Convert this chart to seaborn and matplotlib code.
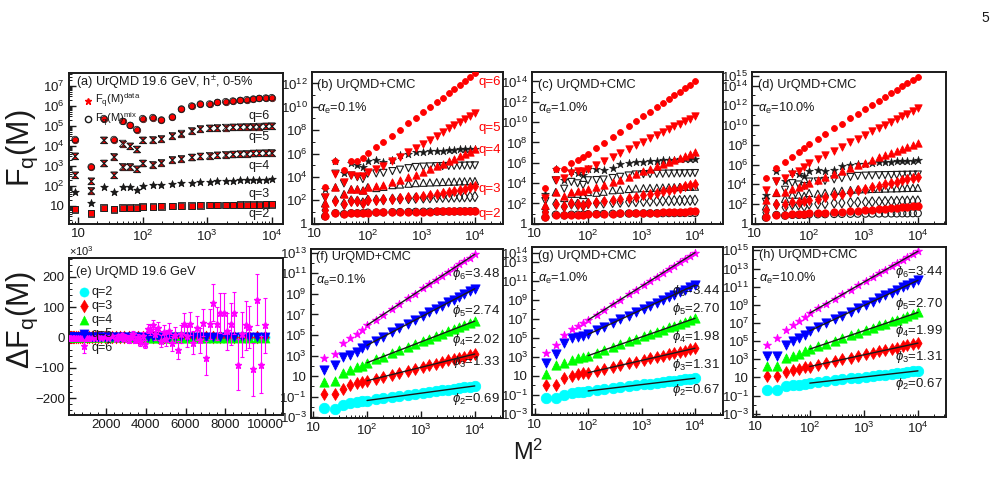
import numpy as np
import matplotlib
matplotlib.use("Agg")
import matplotlib.pyplot as plt
import seaborn as sns
from matplotlib.ticker import FixedLocator, FuncFormatter, LogLocator, NullFormatter, AutoMinorLocator
from matplotlib.lines import Line2D

# ---------------------------------------------------------------------------
# data (x axis is M^2)
# ---------------------------------------------------------------------------
M_a = [3, 4, 5, 6, 7, 8, 9, 10, 12, 14, 17, 20, 24, 28, 33, 38, 44, 50, 57, 64, 72, 80, 90, 100]
M_d = M_a[1:]
qs = [2, 3, 4, 5, 6]

# (a) log10 F_q(M), UrQMD 19.6 GeV; data and mixed events overlap within the marker size
logF_a = {
    2: [0.82, 0.62, 0.90, 0.82, 0.90, 0.90, 0.90, 0.95, 0.96, 0.97, 0.99, 1.00,
        1.01, 1.02, 1.03, 1.03, 1.04, 1.04, 1.05, 1.05, 1.06, 1.06, 1.07, 1.07],
    3: [1.67, 1.15, 1.95, 1.67, 1.95, 1.92, 1.78, 2.00, 2.03, 2.05, 2.10, 2.12,
        2.15, 2.18, 2.20, 2.22, 2.24, 2.26, 2.27, 2.28, 2.29, 2.30, 2.31, 2.32],
    4: [2.53, 1.75, 3.12, 2.53, 2.95, 2.95, 2.83, 3.12, 3.05, 3.15, 3.30, 3.35,
        3.42, 3.47, 3.50, 3.53, 3.55, 3.57, 3.59, 3.60, 3.62, 3.63, 3.64, 3.65],
    5: [3.48, 2.23, 4.28, 3.45, 4.12, 3.98, 3.82, 4.28, 4.30, 4.35, 4.50, 4.62,
        4.75, 4.85, 4.88, 4.90, 4.92, 4.93, 4.94, 4.95, 4.96, 4.97, 4.98, 4.99],
    6: [4.32, 2.95, 5.37, 4.32, 5.23, 5.03, 4.82, 5.37, 5.42, 5.30, 5.45, 5.85,
        6.00, 6.10, 6.10, 6.18, 6.22, 6.25, 6.28, 6.32, 6.35, 6.38, 6.40, 6.42],
}

# (f)-(h) log10 dF_q(M) for UrQMD+CMC, M in M_d
logdF_01 = {
    2: [-2.14, -2.20, -1.82, -1.59, -1.49, -1.43, -1.37, -1.26, -1.16, -1.04, -0.94, -0.83,
        -0.74, -0.63, -0.55, -0.46, -0.38, -0.30, -0.23, -0.15, -0.09, -0.02, 0.05],
    3: [-0.75, -0.75, -0.29, 0.13, 0.29, 0.39, 0.55, 0.76, 0.93, 1.15, 1.33, 1.54,
        1.71, 1.90, 2.06, 2.22, 2.37, 2.52, 2.65, 2.78, 2.90, 3.03, 3.15],
    4: [0.45, 0.51, 1.32, 1.58, 1.84, 2.00, 2.30, 2.62, 2.89, 3.23, 3.52, 3.84,
        4.11, 4.40, 4.65, 4.90, 5.13, 5.36, 5.56, 5.77, 5.96, 6.16, 6.35],
    5: [1.58, 2.07, 2.88, 3.04, 3.36, 3.69, 4.00, 4.43, 4.80, 5.27, 5.66, 6.09,
        6.46, 6.85, 7.19, 7.54, 7.84, 8.16, 8.43, 8.71, 8.97, 9.25, 9.50],
    6: [2.80, 3.20, 4.20, 4.75, 5.10, 5.50, 5.95, 6.50, 6.96, 7.54, 8.03, 8.57,
        9.03, 9.52, 9.95, 10.39, 10.77, 11.17, 11.51, 11.86, 12.18, 12.53, 12.85],
}
logdF_1 = {
    2: [-1.39, -1.39, -1.04, -0.86, -0.75, -0.68, -0.61, -0.50, -0.41, -0.30, -0.21, -0.10,
        -0.01, 0.08, 0.17, 0.25, 0.33, 0.40, 0.47, 0.54, 0.60, 0.67, 0.73],
    3: [0.02, 0.02, 0.73, 1.01, 1.18, 1.25, 1.32, 1.52, 1.70, 1.91, 2.10, 2.30,
        2.47, 2.66, 2.82, 2.98, 3.12, 3.27, 3.40, 3.53, 3.65, 3.78, 3.90],
    4: [1.18, 2.13, 2.31, 2.66, 2.84, 3.01, 3.12, 3.43, 3.70, 4.03, 4.31, 4.62,
        4.88, 5.16, 5.41, 5.65, 5.87, 6.10, 6.30, 6.50, 6.68, 6.88, 7.06],
    5: [2.31, 3.30, 4.49, 4.95, 5.13, 5.20, 5.37, 5.78, 6.13, 6.57, 6.94, 7.35,
        7.70, 8.07, 8.39, 8.72, 9.01, 9.31, 9.57, 9.84, 10.07, 10.34, 10.58],
    6: [3.37, 4.25, 5.30, 5.90, 6.25, 6.60, 6.89, 7.45, 7.93, 8.53, 9.03, 9.59,
        10.07, 10.57, 11.01, 11.46, 11.86, 12.26, 12.62, 12.98, 13.31, 13.67, 14.00],
}
logdF_10 = {
    2: [-0.37, -0.37, 0.00, 0.11, 0.18, 0.29, 0.37, 0.48, 0.57, 0.68, 0.78, 0.88,
        0.97, 1.07, 1.15, 1.24, 1.31, 1.39, 1.46, 1.53, 1.59, 1.66, 1.72],
    3: [1.10, 1.18, 1.65, 1.84, 1.95, 2.10, 2.20, 2.40, 2.58, 2.79, 2.98, 3.18,
        3.35, 3.54, 3.70, 3.86, 4.00, 4.15, 4.28, 4.41, 4.53, 4.66, 4.78],
    4: [2.28, 2.28, 3.13, 3.38, 3.60, 3.86, 4.12, 4.44, 4.71, 5.05, 5.34, 5.66,
        5.93, 6.21, 6.46, 6.72, 6.94, 7.17, 7.38, 7.58, 7.77, 7.97, 8.16],
    5: [3.38, 3.38, 4.60, 4.96, 5.33, 5.70, 6.14, 6.58, 6.95, 7.42, 7.81, 8.25,
        8.63, 9.02, 9.36, 9.71, 10.03, 10.34, 10.62, 10.91, 11.16, 11.44, 11.70],
    6: [4.60, 5.33, 6.25, 6.80, 7.24, 7.65, 8.10, 8.64, 9.09, 9.66, 10.15, 10.68,
        11.14, 11.62, 12.04, 12.47, 12.85, 13.24, 13.58, 13.93, 14.24, 14.59, 14.90],
}
alphas = ['0.1%', '1.0%', '10.0%']
phi_01 = [0.69, 1.33, 2.02, 2.74, 3.48]
phi_1 = [0.67, 1.31, 1.98, 2.70, 3.44]
phi_10 = [0.67, 1.31, 1.99, 2.70, 3.44]

# (e) dF_q(M) of UrQMD in units of 10^3
M_e = list(range(10, 101, 2))
dFe = {
    2: [0.0, 0.0, 0.0, 0.0, 0.0, 0.0, 0.0, 0.0, 0.0, 0.0, 0.0, 0.0, 0.0, 0.0, 0.0, 0.0,
        0.0, 0.0, 0.0, 0.0, 0.0, 0.0, 0.0, 0.0, 0.0, 0.0, 0.0, 0.0, 0.0, 0.0, 0.0, 0.0,
        0.0, 0.0, 0.0, 0.0, 0.0, 0.0, 0.0, 0.0, 0.0, 0.0, 0.0, 0.0, 0.0, 0.0],
    3: [0.0, 0.0, 0.0, 0.0, 0.0, 0.0, 0.0, 0.0, 0.0, 0.0, 0.0, 0.0, 0.0, 0.0, 0.0, 0.0,
        0.0, 0.0, 0.0, 0.0, 0.0, 0.0, 0.0, 0.0, 0.0, 0.0, 0.0, 0.0, 0.0, 0.0, 0.0, 0.0,
        0.0, 0.0, 0.0, 0.0, 0.0, 0.0, 0.0, 0.0, 0.0, 0.0, 0.0, 0.0, 0.0, 0.0],
    4: [0.0, 0.0, 0.0, 0.0, 0.0, 0.0, 0.0, 0.0, 0.0, 0.0, 0.0, -0.1, -0.1, -0.1, -0.1, -0.1,
        -0.1, -0.2, -0.2, -0.2, -0.2, -0.2, -0.3, -0.3, -0.3, -0.3, -0.3, -0.4, -0.4, -0.4, -0.4, -0.4,
        -0.5, -0.5, -0.5, -0.5, -0.5, -0.6, -0.6, -0.6, -0.6, -0.7, -0.7, -0.7, -0.7, -0.8],
    5: [0.0, 0.0, 0.0, 0.0, 0.0, 0.0, 0.0, 0.0, 0.0, 0.1, 0.1, 0.1, 0.1, 0.1, 0.2, 0.2,
        0.2, 0.3, 0.3, 0.3, 0.4, 0.4, 0.5, 0.5, 0.6, 0.6, 0.7, 0.7, 0.8, 0.9, 0.9, 1.0,
        1.1, 1.2, 1.3, 1.3, 1.4, 1.5, 1.6, 1.7, 1.8, 1.9, 2.0, 2.1, 2.2, 2.3],
}
M_e6 = list(range(10, 51, 2)) + list(range(51, 101))
dFe6 = [-1, -1, -2, -1, -2, -2, -1, -2, -3, -2, -1, -2, -3, -1, -2, 0, -3, 2, -2, 3, -4,
        5, -3, 8, -6, 2, -10, 4, 12, -8, 0, -15, 6, -22, 28, 25, 40, 10, 32, -12, 18,
        -5, 22, -20, 8, -42, 12, 45, 5, 45, -18, 30, -10, 48, -68, 45, 115, 45, 80, 80, 20,
        45, 80, -90, 10, 40, 35, -105, 125, -90, 40]
dFe6_err = [0.5, 0.5, 0.6, 0.6, 0.7, 0.8, 0.9, 1.0, 1.1, 1.2, 1.4, 1.5, 1.7, 1.9, 2.1, 2.3,
            2.6, 2.9, 3.2, 3.6, 4.0,
            5, 6, 6, 7, 7, 8, 9, 10, 10, 11, 12, 13, 14, 15, 16, 18, 18, 20, 20, 22,
            22, 24, 25, 26, 30, 30, 35, 35, 38, 38, 40, 42, 45, 55, 50, 60, 55, 65, 68, 60,
            70, 70, 85, 75, 80, 70, 88, 85, 95, 90]

# ---------------------------------------------------------------------------
sns.set_theme(style="ticks", rc={'text.color': 'k', 'axes.labelcolor': 'k',
                                 'xtick.color': 'k', 'ytick.color': 'k',
                                 'axes.edgecolor': 'k'})
plt.rcParams['font.family'] = ['Liberation Sans', 'DejaVu Sans']
plt.rcParams['mathtext.fontset'] = 'custom'
plt.rcParams['mathtext.rm'] = 'Liberation Sans'
plt.rcParams['mathtext.it'] = 'Liberation Sans:italic'
plt.rcParams['mathtext.bf'] = 'Liberation Sans:bold'
plt.rcParams['mathtext.sf'] = 'Liberation Sans'

fig = plt.figure(figsize=(10.02, 4.96), dpi=100)
W, H = 1002.0, 496.0


def add_ax(l, t, r, b):
    return fig.add_axes([l / W, 1 - b / H, (r - l) / W, (b - t) / H])


def log_fmt(v, pos):
    n = int(round(np.log10(v)))
    if n == 0:
        return '1'
    if n == 1:
        return '10'
    return r'$10^{%d}$' % n


def style_frame(ax):
    for sp in ax.spines.values():
        sp.set_visible(True)
        sp.set_linewidth(1.4)
        sp.set_color('k')
    ax.tick_params(which='both', direction='in', top=False, right=False,
                   labelsize=9.5, colors='k', pad=3)
    ax.tick_params(which='major', length=5, width=1)
    ax.tick_params(which='minor', length=2.5, width=0.7)
    ax.set_xlabel('')
    ax.set_ylabel('')


def style_log(ax, xlim, ylim, yexp, ysubs):
    ax.set_xscale('log')
    ax.set_yscale('log')
    ax.set_xlim(xlim)
    ax.set_ylim(ylim)
    ax.xaxis.set_major_locator(FixedLocator([10, 100, 1000, 10000]))
    ax.xaxis.set_minor_locator(LogLocator(base=10, subs=np.arange(2, 10), numticks=20))
    ax.xaxis.set_minor_formatter(NullFormatter())
    ax.yaxis.set_major_locator(FixedLocator([10.0 ** e for e in yexp]))
    ax.yaxis.set_minor_locator(LogLocator(base=10, subs=ysubs, numticks=40))
    ax.yaxis.set_minor_formatter(NullFormatter())
    ax.xaxis.set_major_formatter(FuncFormatter(log_fmt))
    ax.yaxis.set_major_formatter(FuncFormatter(log_fmt))
    style_frame(ax)


def scat(ax, x, y, marker, color, s, ec=None, lw=0.6, fill=True, z=2):
    fc = color if fill else 'none'
    sns.scatterplot(x=x, y=y, ax=ax, marker=marker, color=color, facecolor=fc,
                    edgecolor=ec if ec is not None else color, s=s, linewidth=lw,
                    legend=False, zorder=z)


hourglass = [(-1, 1), (1, 1), (-1, -1), (1, -1), (-1, 1)]
x_a = np.array(M_a, dtype=float) ** 2
x_d = np.array(M_d, dtype=float) ** 2
F_a = {q: 10.0 ** np.array(logF_a[q]) for q in qs}

# ---------------------------------------------------------------- panel (a)
ax = add_ax(69, 73.3, 282.7, 224.3)
mk_a = {2: 's', 3: '*', 4: hourglass, 5: hourglass, 6: 'o'}
for q in qs:
    scat(ax, x_a, F_a[q], mk_a[q], 'red', 22, ec='k', lw=0.5)
    if q == 3:
        scat(ax, x_a, F_a[q], '*', 'k', 34, ec='k', lw=0.5)
    else:
        scat(ax, x_a, F_a[q], mk_a[q], 'k', 22, ec='k', lw=0.6, fill=False)
style_log(ax, (7.25, 1.48e4), (10 ** 0.07, 10 ** 7.64), range(1, 8), np.arange(2, 10))
ax.text(0.035, 0.94, r'(a) UrQMD 19.6 GeV, h$^{\pm}$, 0-5%', transform=ax.transAxes,
        fontsize=9.2, va='center', ha='left')
handles = [Line2D([], [], marker='*', color='red', ls='none', ms=5,
                  label=r'F$_{\mathrm{q}}$(M)$^{\mathrm{data}}$'),
           Line2D([], [], marker='o', mfc='none', mec='k', ls='none', ms=4.5,
                  label=r'F$_{\mathrm{q}}$(M)$^{\mathrm{mix}}$')]
ax.legend(handles=handles, loc='upper left', bbox_to_anchor=(0.03, 0.92), frameon=False,
          fontsize=8, handletextpad=0.2, labelspacing=0.05, borderpad=0.1,
          handlelength=1.0)
qlab_a = {6: 5.5, 5: 4.45, 4: 3.0, 3: 1.6, 2: 0.58}
for q in qs:
    ax.text(4300, 10 ** qlab_a[q], 'q=%d' % q, fontsize=9, ha='left', va='center')

# ---------------------------------------------------------------- panels (b)-(d)
mk = {2: 'o', 3: 'd', 4: '^', 5: 'v', 6: '*'}
top_boxes = [(311.7, 72.3, 502.7, 224.3), (532, 72.3, 722.7, 224.3), (752.3, 72.3, 946, 224.3)]
top_ylim = [(10 ** -0.05, 10 ** 12.95), (10 ** -0.05, 10 ** 14.9), (10 ** -0.05, 10 ** 15.35)]
top_yexp = [[0, 2, 4, 6, 8, 10, 12, 13], [0, 2, 4, 6, 8, 10, 12, 14],
            [0, 2, 4, 6, 8, 10, 12, 14, 15]]
dF_sets = [logdF_01, logdF_1, logdF_10]
phi_sets = [phi_01, phi_1, phi_10]
letters_top = ['b', 'c', 'd']
red_size = {2: 28, 3: 26, 4: 28, 5: 28, 6: 18}
for i in range(3):
    ax = add_ax(*top_boxes[i])
    for q in qs:
        mix = F_a[q][1:]
        if q == 6:
            scat(ax, x_d, mix, '*', 'k', 36, ec='k', lw=0.4)
        else:
            scat(ax, x_d, mix, mk[q], 'k', 26, ec='k', lw=0.8, fill=False)
    for q in qs:
        # UrQMD+CMC data = mixed events + dF
        red = F_a[q][1:] + 10.0 ** np.array(dF_sets[i][q])
        scat(ax, x_d, red, 'o' if q == 6 else mk[q], 'red', red_size[q], z=3)
    style_log(ax, (9.0, 3.3e4), top_ylim[i], top_yexp[i], (1.0,))
    ax.text(0.03, 0.915, '(%s) UrQMD+CMC' % letters_top[i], transform=ax.transAxes,
            fontsize=9.2, ha='left', va='center')
    ax.text(0.03, 0.76, r'$\alpha_{\mathrm{e}}$=%s' % alphas[i], transform=ax.transAxes,
            fontsize=9.2, ha='left', va='center')
    if i == 0:
        qlab_b = {6: 12.1, 5: 8.2, 4: 6.3, 3: 3.0, 2: 0.86}
        for q in qs:
            ax.text(1.15e4, 10 ** qlab_b[q], 'q=%d' % q, color='red', fontsize=9.5,
                    ha='left', va='center')

# ---------------------------------------------------------------- panel (e)
col = {2: 'cyan', 3: 'red', 4: (0.0, 1.0, 0.0), 5: 'blue', 6: 'magenta'}
ax = add_ax(69, 258.3, 282.7, 415)
x_e = np.array(M_e, dtype=float) ** 2
mk_e = {2: 'o', 3: 'd', 4: '^', 5: 'v'}
for q in [2, 3, 4, 5]:
    sns.scatterplot(x=x_e, y=dFe[q], ax=ax, marker=mk_e[q], color=col[q], s=44,
                    edgecolor=col[q], linewidth=0.3, label='q=%d' % q, zorder=2)
x_e6 = np.array(M_e6, dtype=float) ** 2
ax.errorbar(x_e6, dFe6, yerr=dFe6_err, fmt='*', color='magenta', ms=4.5, elinewidth=0.8,
            capsize=1.3, capthick=0.8, label='q=6', zorder=3)
ax.set_xlim(139, 10890)
ax.set_ylim(-256, 261)
ax.xaxis.set_major_locator(FixedLocator([2000, 4000, 6000, 8000, 10000]))
ax.yaxis.set_major_locator(FixedLocator([-200, -100, 0, 100, 200]))
ax.xaxis.set_minor_locator(AutoMinorLocator(5))
ax.yaxis.set_minor_locator(AutoMinorLocator(5))
style_frame(ax)
ax.set_yticklabels(['\u2212200', '\u2212100', '0', '100', '200'])
ax.text(0.0, 1.005, r'$\times$10$^{3}$', transform=ax.transAxes, fontsize=8,
        ha='left', va='bottom')
ax.text(0.035, 0.91, '(e) UrQMD 19.6 GeV', transform=ax.transAxes, fontsize=9.2,
        ha='left', va='center')
ax.legend(loc='upper left', bbox_to_anchor=(0.0, 0.87), frameon=False, fontsize=9,
          handletextpad=0.0, labelspacing=0.15, borderpad=0.1, handlelength=1.2,
          markerscale=1.0)

# ---------------------------------------------------------------- panels (f)-(h)
bot_boxes = [(310.7, 249, 502.7, 418.3), (532.3, 247.3, 722.7, 415), (753.3, 247, 946, 416.7)]
bot_ylim = [(10 ** -3.1, 10 ** 13.36), (10 ** -3.15, 10 ** 14.56), (10 ** -3.33, 10 ** 15.37)]
bot_yexp = [[-3, -1, 1, 3, 5, 7, 9, 11, 13], [-3, -1, 1, 3, 5, 7, 9, 11, 13, 14],
            [-3, -1, 1, 3, 5, 7, 9, 11, 13, 15]]
phi_pos = [{6: 0.85, 5: 0.635, 4: 0.463, 3: 0.333, 2: 0.116},
           {6: 0.74, 5: 0.63, 4: 0.467, 3: 0.298, 2: 0.149},
           {6: 0.85, 5: 0.667, 4: 0.504, 3: 0.353, 2: 0.19}]
letters_bot = ['f', 'g', 'h']
bot_size = {2: 56, 3: 36, 4: 44, 5: 44, 6: 36}
lx = np.log10(x_d)
for i in range(3):
    ax = add_ax(*bot_boxes[i])
    for q in qs:
        ly = np.array(dF_sets[i][q])
        scat(ax, x_d, 10.0 ** ly, mk[q], col[q], bot_size[q], z=2)
    for q in qs:
        # power-law fit over M^2 >= 100
        ly = np.array(dF_sets[i][q])
        sel = lx >= 2
        coef = np.polyfit(lx[sel], ly[sel], 1)
        xs = np.array([100.0, 10000.0])
        sns.lineplot(x=xs, y=10.0 ** np.polyval(coef, np.log10(xs)), ax=ax, color='k',
                     linewidth=1.0, zorder=4)
    style_log(ax, (9.0, 3.3e4), bot_ylim[i], bot_yexp[i], (1.0,))
    ax.text(0.03, 0.95, '(%s) UrQMD+CMC' % letters_bot[i], transform=ax.transAxes,
            fontsize=9.2, ha='left', va='center')
    ax.text(0.03, 0.815, r'$\alpha_{\mathrm{e}}$=%s' % alphas[i], transform=ax.transAxes,
            fontsize=9.2, ha='left', va='center')
    for j, q in enumerate(qs):
        ax.text(0.985, phi_pos[i][q], r'$\phi_{%d}$=%.2f' % (q, phi_sets[i][j]),
                transform=ax.transAxes, fontsize=9.5, ha='right', va='center', zorder=5)

# ---------------------------------------------------------------- global labels
fig.text(22 / W, 1 - 148 / H, r'F$_{\mathrm{q}}$(M)', rotation=90, fontsize=22,
         ha='center', va='center')
fig.text(22 / W, 1 - 320 / H, r'$\Delta$F$_{\mathrm{q}}$(M)', rotation=90, fontsize=22,
         ha='center', va='center')
fig.text(528 / W, 1 - 452 / H, r'M$^{2}$', fontsize=17, ha='center', va='center')
fig.text(985 / W, 1 - 18 / H, '5', fontsize=10, ha='center', va='center')

fig.savefig('out.png', dpi=100)
